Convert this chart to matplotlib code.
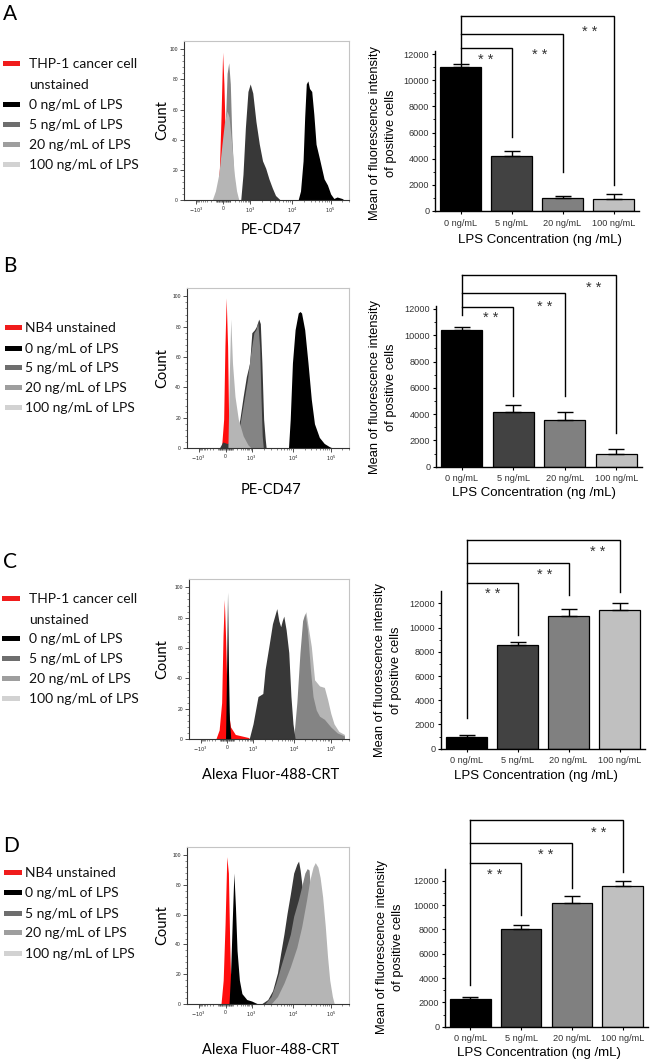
import numpy as np
import matplotlib.pyplot as plt
from matplotlib.patches import Rectangle

plt.rcParams['font.family'] = ['Liberation Sans', 'DejaVu Sans']

W, H, DPI = 652, 1062, 100

# ---------------- data ----------------
DOSES = ['0 ng/mL', '5 ng/mL', '20 ng/mL', '100 ng/mL']
LEGEND_THP1 = ['THP-1 cancer cell', 'unstained', '0 ng/mL of LPS', '5 ng/mL of LPS',
               '20 ng/mL of LPS', '100 ng/mL of LPS']
LEGEND_NB4 = ['NB4 unstained', '0 ng/mL of LPS', '5 ng/mL of LPS',
              '20 ng/mL of LPS', '100 ng/mL of LPS']
HIST_XLABELS = ['PE-CD47', 'PE-CD47', 'Alexa Fluor-488-CRT', 'Alexa Fluor-488-CRT']

# biexponential axis, tick positions in channel units (0-1000)
CHANNEL_TICKS = [75, 245, 410, 675, 915]
CHANNEL_LABELS = [r'$-10^3$', '0', r'$10^3$', r'$10^4$', r'$10^5$']

# histograms: (channel, count)
A_UNST = [(206, 0), (221, 21), (231, 55), (241, 98), (249, 77), (257, 43), (269, 17), (287, 3), (302, 0)]
A_LPS0 = [(712, 0), (727, 6), (743, 26), (753, 55), (763, 77), (773, 79), (783, 74), (797, 72), (810, 57),
          (824, 37), (844, 28), (874, 14), (895, 10), (915, 4), (935, 1), (955, 2), (986, 1), (1000, 0)]
A_LPS5 = [(354, 0), (368, 17), (383, 48), (399, 72), (413, 77), (429, 71), (449, 52), (470, 37), (490, 26),
          (510, 21), (530, 14), (551, 8), (571, 3), (591, 1), (601, 0)]
A_LPS20 = [(227, 0), (250, 30), (261, 59), (269, 84), (279, 91), (289, 77), (298, 43), (310, 17), (322, 6), (338, 0)]
A_LPS100 = [(176, 0), (196, 6), (217, 17), (237, 37), (253, 52), (269, 59), (281, 55), (298, 37), (314, 17),
            (328, 6), (342, 0)]

B_UNST = [(219, 0), (233, 19), (241, 67), (249, 99), (258, 67), (264, 23), (274, 6), (285, 0)]
B_LPS0 = [(645, 0), (656, 19), (670, 56), (687, 78), (707, 89), (718, 90), (728, 89), (748, 78), (769, 56),
          (790, 32), (810, 16), (841, 7), (872, 3), (903, 1), (924, 0)]
B_LPS5 = [(206, 0), (227, 4), (254, 3), (285, 4), (315, 8), (336, 19), (357, 34), (377, 47), (398, 56),
          (412, 76), (429, 78), (440, 80), (456, 85), (466, 82), (476, 56), (487, 19), (497, 6), (503, 0)]
B_LPS20 = [(260, 0), (301, 2), (322, 8), (342, 19), (363, 32), (384, 45), (404, 62), (425, 76), (438, 78),
           (450, 83), (462, 66), (470, 34), (478, 8), (485, 0)]
B_LPS100 = [(260, 0), (268, 45), (278, 85), (289, 56), (305, 34), (326, 19), (357, 8), (388, 2), (408, 0)]

C_UNST = [(173, 0), (194, 6), (210, 24), (219, 68), (227, 92), (235, 68), (246, 24), (267, 8), (298, 3),
          (340, 2), (381, 1), (392, 0)]
C_LPS0 = [(235, 0), (242, 46), (248, 97), (254, 46), (260, 13), (269, 0)]
C_LPS5 = [(387, 0), (412, 10), (444, 28), (475, 30), (490, 46), (517, 63), (537, 76), (565, 86), (578, 78),
          (590, 74), (600, 78), (610, 81), (625, 72), (642, 57), (656, 28), (669, 10), (683, 0)]
C_LPS20 = [(673, 0), (694, 24), (714, 57), (731, 78), (746, 83), (762, 72), (781, 46), (798, 28), (819, 19),
           (840, 15), (871, 13), (912, 8), (954, 4), (1000, 2)]
C_LPS100 = [(679, 0), (704, 24), (721, 59), (735, 78), (752, 84), (770, 72), (787, 61), (808, 39), (840, 35),
            (871, 34), (892, 26), (912, 17), (933, 10), (964, 5), (1000, 3)]

D_UNST = [(216, 0), (230, 16), (242, 54), (253, 99), (263, 88), (271, 43), (279, 9), (287, 0)]
D_LPS0 = [(267, 0), (277, 21), (287, 54), (298, 88), (308, 65), (318, 36), (333, 16), (349, 7), (380, 3),
          (411, 2), (441, 0.5), (452, 0)]
D_LPS5 = [(472, 0), (513, 3), (544, 9), (575, 21), (595, 34), (616, 47), (636, 61), (657, 74), (678, 88),
          (698, 94), (709, 96), (719, 90), (735, 76), (749, 55), (760, 30), (770, 10), (780, 0)]
D_LPS20 = [(493, 0), (534, 5), (565, 14), (595, 25), (626, 36), (657, 47), (678, 59), (708, 70), (729, 79),
           (749, 88), (764, 91), (776, 90), (791, 65), (801, 47), (811, 21), (821, 0)]
D_LPS100 = [(534, 0), (575, 5), (616, 14), (657, 25), (698, 38), (729, 52), (760, 70), (780, 83), (801, 92),
            (815, 95), (832, 92), (846, 85), (862, 72), (879, 52), (893, 32), (907, 16), (924, 5), (936, 0)]

# mean fluorescence intensity (bars) and upper error
A_MFI = [11000, 4230, 970, 920]
A_ERR = [260, 360, 180, 350]
B_MFI = [10400, 4160, 3530, 940]
B_ERR = [230, 500, 600, 400]
C_MFI = [990, 8560, 10980, 11420]
C_ERR = [140, 220, 520, 630]
D_MFI = [2270, 8000, 10140, 11530]
D_ERR = [140, 330, 600, 470]

# significance brackets (0 ng/mL vs each dose)
A_BR_START, A_BR_TOP, A_BR_DROP = 11290, [12430, 13500, 14900], [5680, 3010, 1990]
A_STAR_X, A_STAR_Y = [0.50, 1.55, 2.53], [11920, 12300, 14090]
B_BR_START, B_BR_TOP, B_BR_DROP = 11540, [12180, 13190, 14610], [5400, 5400, 2540]
B_STAR_X, B_STAR_Y = [0.57, 1.62, 2.56], [11670, 12560, 14000]
C_BR_START, C_BR_TOP, C_BR_DROP = 2500, [13650, 15360, 17230], [9390, 12690, 12960]
C_STAR_X, C_STAR_Y = [0.52, 1.53, 2.57], [13180, 14700, 16600]
D_BR_START, D_BR_TOP, D_BR_DROP = 3420, [13420, 15070, 16990], [9180, 11370, 12740]
D_STAR_X, D_STAR_Y = [0.48, 1.49, 2.52], [12880, 14520, 16300]

# ---------------- style ----------------
HIST_COLORS = {'unst': '#ff0d0d', '0': '#000000', '5': '#383838', '20': '#848484', '100': '#b5b5b5'}
LEG_COLORS = ['#f01c1c', '#000000', '#6e6e6e', '#9e9e9e', '#d2d2d2']
BAR_COLORS = ['#000000', '#424242', '#808080', '#c0c0c0']
CAL = ['Lato', 'DejaVu Sans']

fig = plt.figure(figsize=(W / DPI, H / DPI), dpi=DPI)


def px_axes(left, top, right, bottom):
    return fig.add_axes([left / W, 1 - bottom / H, (right - left) / W, (bottom - top) / H])


def fy(y):
    return 1 - y / H


def channel_minor():
    ticks = []
    for a, b in [(410, 675), (675, 915)]:
        ticks += [a + (b - a) * np.log10(k) for k in range(2, 10)]
    ticks += [915 + 240 * np.log10(k) for k in range(2, 4)]
    for v in list(range(10, 100, 10)) + list(range(100, 1000, 100)):
        f = np.arcsinh(v / 120) / np.arcsinh(1000 / 120)
        ticks += [245 + 165 * f, 245 - 170 * f]
    return ticks


def draw_hist(ax, curves, order):
    for key in order:
        pts = np.array(curves[key], dtype=float)
        ax.fill_between(pts[:, 0], pts[:, 1], 0, color=HIST_COLORS[key], lw=0)
    ax.set_xlim(0, 1000)
    ax.set_ylim(0, 105.5)
    for s in ['left', 'bottom']:
        ax.spines[s].set_color('#333333')
        ax.spines[s].set_linewidth(0.8)
    for s in ['top', 'right']:
        ax.spines[s].set_color('#c4c4c4')
        ax.spines[s].set_linewidth(0.8)
    ax.set_yticks(range(0, 101, 20))
    ax.set_yticks(range(0, 101, 4), minor=True)
    ax.set_xticks(CHANNEL_TICKS)
    ax.set_xticklabels(CHANNEL_LABELS)
    ax.set_xticks(channel_minor(), minor=True)
    ax.tick_params(which='major', length=3.2, width=0.6, labelsize=3.6, pad=1.2, color='#333333',
                   labelcolor='#222222')
    ax.tick_params(which='minor', length=1.6, width=0.4, color='#333333')


def draw_bars(ax, vals, errs, start, tops, drops, star_x, star_y, ymax, spine_top):
    x = np.arange(len(vals))
    ax.bar(x, vals, width=0.8, color=BAR_COLORS, edgecolor='black', linewidth=0.9, zorder=2)
    ax.errorbar(x, vals, yerr=[np.zeros(len(errs)), errs], fmt='none', ecolor='black',
                elinewidth=1.0, capsize=6, capthick=1.0, zorder=3)
    ax.set_xlim(-0.5, 3.5)
    ax.set_ylim(0, ymax)
    ax.spines['top'].set_visible(False)
    ax.spines['right'].set_visible(False)
    ax.spines['left'].set_bounds(0, spine_top)
    ax.spines['left'].set_linewidth(1.0)
    ax.spines['bottom'].set_linewidth(1.0)
    ax.set_yticks(range(0, 12001, 2000))
    ax.set_yticks(range(0, 12001, 1000), minor=True)
    ax.set_xticks(x)
    ax.set_xticklabels(DOSES)
    ax.tick_params(which='major', length=2.5, width=0.8, labelsize=6.6, pad=1.5, labelcolor='#333333')
    ax.tick_params(which='minor', length=1.3, width=0.6)
    ax.tick_params(axis='x', pad=3)
    ax.plot([0, 0], [start, max(tops)], color='black', lw=1.0, clip_on=False)
    for i, (t, d) in enumerate(zip(tops, drops)):
        ax.plot([0, i + 1, i + 1], [t, t, d], color='black', lw=1.0, clip_on=False,
                solid_joinstyle='miter')
        ax.annotate('* *', (star_x[i], star_y[i]), xytext=(0, -3.5), textcoords='offset points',
                    ha='center', va='center', fontsize=10.5, color='#333333', annotation_clip=False)


def draw_legend(labels, colors, baselines, patch_x0, patch_x1, text_x, two_line):
    ci = 0
    for i, (lab, b) in enumerate(zip(labels, baselines)):
        fig.text(text_x / W, fy(b), lab, fontsize=10, family=CAL, va='baseline', ha='left',
                 color='#111111')
        if two_line and i == 1:
            continue
        fig.patches.append(Rectangle((patch_x0 / W, fy(b - 2.5)), (patch_x1 - patch_x0) / W, 4.6 / H,
                                     transform=fig.transFigure, color=colors[ci], lw=0))
        ci += 1


panels = [
    dict(letter='A', letter_y=20,
         curves={'unst': A_UNST, '0': A_LPS0, '5': A_LPS5, '20': A_LPS20, '100': A_LPS100},
         order=['unst', '0', '5', '20', '100'],
         hist=(184, 41, 349, 200), hist_xlabel_y=230,
         legend=LEGEND_THP1, leg_base=[68, 89, 109, 129, 149, 169], leg_px=(3, 20, 29),
         bars=(435, 639, 211, 54), ymax=15500, spine_top=12200,
         mfi=A_MFI, err=A_ERR, br=(A_BR_START, A_BR_TOP, A_BR_DROP, A_STAR_X, A_STAR_Y),
         ylab=(383, 133), xlab=(540, 240)),
    dict(letter='B', letter_y=272,
         curves={'unst': B_UNST, '0': B_LPS0, '5': B_LPS5, '20': B_LPS20, '100': B_LPS100},
         order=['unst', '0', '5', '20', '100'],
         hist=(187, 288, 349, 448), hist_xlabel_y=490,
         legend=LEGEND_NB4, leg_base=[332, 353, 372, 392, 412], leg_px=(5, 22, 25),
         bars=(436, 642, 466.7, 309), ymax=15200, spine_top=12200,
         mfi=B_MFI, err=B_ERR, br=(B_BR_START, B_BR_TOP, B_BR_DROP, B_STAR_X, B_STAR_Y),
         ylab=(383, 387), xlab=(534, 493)),
    dict(letter='C', letter_y=568,
         curves={'unst': C_UNST, '0': C_LPS0, '5': C_LPS5, '20': C_LPS20, '100': C_LPS100},
         order=['100', '20', '5', 'unst', '0'],
         hist=(189, 579, 349, 739), hist_xlabel_y=775,
         legend=LEGEND_THP1, leg_base=[603, 624, 643, 663, 683, 703], leg_px=(2, 20, 29),
         bars=(441, 645, 748.7, 603.3), ymax=17800, spine_top=13000,
         mfi=C_MFI, err=C_ERR, br=(C_BR_START, C_BR_TOP, C_BR_DROP, C_STAR_X, C_STAR_Y),
         ylab=(388, 670), xlab=(536, 776)),
    dict(letter='D', letter_y=852,
         curves={'unst': D_UNST, '0': D_LPS0, '5': D_LPS5, '20': D_LPS20, '100': D_LPS100},
         order=['5', '20', '100', 'unst', '0'],
         hist=(187, 847, 349, 1004), hist_xlabel_y=1050,
         legend=LEGEND_NB4, leg_base=[877, 897, 918, 937, 958], leg_px=(4, 22, 25),
         bars=(445, 648, 1026.7, 880.7), ymax=17600, spine_top=13000,
         mfi=D_MFI, err=D_ERR, br=(D_BR_START, D_BR_TOP, D_BR_DROP, D_STAR_X, D_STAR_Y),
         ylab=(390, 947), xlab=(539, 1053)),
]

for i, p in enumerate(panels):
    fig.text(3 / W, fy(p['letter_y']), p['letter'], fontsize=15, family=CAL, va='baseline', ha='left')

    l, t, r, b = p['hist']
    hax = px_axes(l, t, r, b)
    draw_hist(hax, p['curves'], p['order'])
    fig.text(162 / W, fy((t + b) / 2), 'Count', rotation=90, fontsize=10.5, family=CAL,
             ha='center', va='center')
    fig.text(271 / W, fy(p['hist_xlabel_y']), HIST_XLABELS[i], fontsize=10.5, family=CAL,
             ha='center', va='center')

    draw_legend(p['legend'], LEG_COLORS, p['leg_base'], *p['leg_px'], two_line=(p['legend'] is LEGEND_THP1))

    bl, br_, bb, y12 = p['bars']
    top = bb - (bb - y12) * p['ymax'] / 12000
    bax = px_axes(bl, top, br_, bb)
    draw_bars(bax, p['mfi'], p['err'], *p['br'], ymax=p['ymax'], spine_top=p['spine_top'])
    fig.text(p['ylab'][0] / W, fy(p['ylab'][1]), 'Mean of fluorescence intensity\nof positive cells',
             rotation=90, fontsize=9.3, ha='center', va='center', ma='center', linespacing=1.45)
    fig.text(p['xlab'][0] / W, fy(p['xlab'][1]), 'LPS Concentration (ng /mL)', fontsize=9.5,
             ha='center', va='center')

fig.savefig('out.png', dpi=DPI)
